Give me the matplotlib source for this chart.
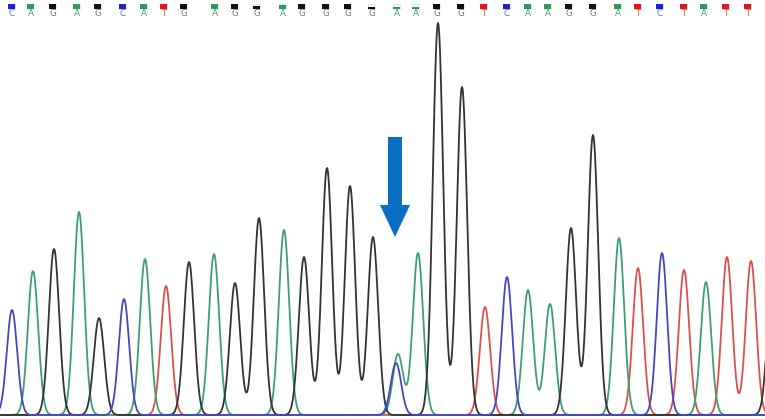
import matplotlib
matplotlib.use('Agg')
import matplotlib.pyplot as plt
from matplotlib.patches import Rectangle
import numpy as np

# peaks: scan position, height, base
peak_pos = [12, 33, 54, 79, 99, 124, 145, 166, 189, 214, 235, 259, 284, 304,
            327, 350, 373, 396, 398, 418, 438, 462, 485, 507, 528, 550, 571,
            593, 619, 638, 662, 684, 706, 727, 751, 773]
peak_height = [105, 144, 166, 203, 97, 116, 156, 129, 153, 161, 132, 197, 185,
               158, 247, 229, 178, 52, 61, 162, 392, 328, 108, 138, 125, 111,
               187, 280, 177, 147, 162, 145, 133, 158, 154, 150]
peak_base = ['C', 'A', 'G', 'A', 'G', 'C', 'A', 'T', 'G', 'A', 'G', 'G', 'A',
             'G', 'G', 'G', 'G', 'C', 'A', 'A', 'G', 'G', 'T', 'C', 'A', 'A',
             'G', 'G', 'A', 'T', 'C', 'T', 'A', 'T', 'T', 'G']

# base calls along the top, with quality fill of the little bars
call_pos = [12, 31, 53, 77, 98, 123, 144, 164, 184, 215, 235, 257, 283, 302,
            326, 348, 372, 397, 416, 437, 461, 484, 507, 528, 548, 569, 593,
            618, 638, 660, 684, 704, 726, 748]
call_base = list('CAGAGCATGAGGAGGGGAAGGTCAAGGATCTATT')
call_qual = [1, 1, 1, 1, 1, 1, 1, 1, 1, 1, 1, 0.5, 0.8, 1,
             1, 1, 0.3, 0.3, 0.3, 1, 1, 1, 1, 1, 1, 1, 1,
             1, 1, 1, 1, 1, 1, 1]

colors = {'A': '#3e9e78', 'C': '#4646c0', 'G': '#333333', 'T': '#dd5050'}
text_colors = {'A': '#3e9e78', 'C': '#6a6ad0', 'G': '#777777', 'T': '#dd5050'}
bar_colors = {'A': '#2e9a5a', 'C': '#2020e0', 'G': '#111111', 'T': '#ee1111'}
SIGMA = 5.2

fig = plt.figure(figsize=(7.65, 4.19), dpi=100)
ax = fig.add_axes([0, 0, 1, 1])

x = np.arange(0, 766, 0.5)
for b in ['T', 'A', 'G', 'C']:
    y = np.zeros_like(x, dtype=float)
    for p, h, pb in zip(peak_pos, peak_height, peak_base):
        if pb == b:
            y += h * np.exp(-(x - p) ** 2 / (2 * SIGMA ** 2))
    ax.plot(x, y, color=colors[b], lw=1.3, solid_joinstyle='round')

# call bars and letters
for p, b, q in zip(call_pos, call_base, call_qual):
    ax.add_patch(Rectangle((p - 3.5, 406), 7, 5, facecolor='white',
                           edgecolor='#dddddd', lw=0.5))
    ax.add_patch(Rectangle((p - 3.5, 406), 7, 5 * q,
                           facecolor=bar_colors[b], edgecolor='none'))
    ax.text(p, 401, b, color=text_colors[b], fontsize=6.3, ha='center',
            va='center', family='DejaVu Sans')

# arrow pointing at the heterozygous position
ax.arrow(395, 415 - 137, 0, -100, width=14, head_width=30, head_length=32,
         length_includes_head=True, color='#0a6fc2', lw=0)

ax.set_xlim(0, 765)
ax.set_ylim(-4, 415)
ax.axis('off')

fig.savefig('out.png', dpi=100)
